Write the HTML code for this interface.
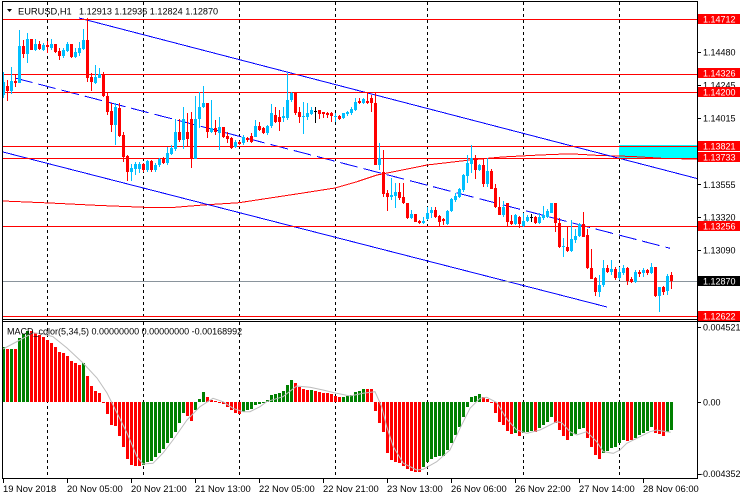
<!DOCTYPE html>
<html><head><meta charset="utf-8"><style>
html,body{margin:0;padding:0;background:#fff;width:740px;height:500px;overflow:hidden}
svg{display:block}
text{font-family:"Liberation Sans",Arial,sans-serif}
</style></head><body>
<svg width="740" height="500" viewBox="0 0 740 500" xmlns="http://www.w3.org/2000/svg" shape-rendering="crispEdges">
<rect width="740" height="500" fill="#fff"/>
<!-- grid -->
<path d="M47.5 2V319M143.5 2V319M239.5 2V319M335.5 2V319M427.5 2V319M523.5 2V319M619.5 2V319M47.5 322V478M143.5 322V478M239.5 322V478M335.5 322V478M427.5 322V478M523.5 322V478M619.5 322V478" stroke="#000" stroke-dasharray="3,3" fill="none"/>
<!-- cyan zone -->
<rect x="619" y="145" width="78" height="14" fill="#00FFFF"/>
<!-- MA -->
<polyline points="3,201 50,203 100,205.5 150,207.5 170,207.7 203,205 239,202.7 270,198 303,193 335,188 357,181.7 377,175 400,170.5 427,165 470,160 502,157 540,155 570,153.8 600,155.5 633,156.5 665,158.5 697,159" fill="none" stroke="#FF0000" stroke-width="1"/>
<!-- trend lines -->
<path d="M79 18L697 178.5M3 152L607 307" stroke="#0000FF" stroke-width="1" fill="none"/>
<path d="M15 78L670 248.3" stroke="#0000FF" stroke-width="1" fill="none" stroke-dasharray="18,6"/>
<!-- horizontal lines -->
<path d="M2 19h695v1h-695zM2 74h695v1h-695zM2 92h695v1h-695zM2 146h695v1h-695zM2 158h695v1h-695zM2 226h695v1h-695zM2 316h695v1h-695z" fill="#FF0000"/>
<path d="M2 281h695v1h-695z" fill="#8A949C"/>
<!-- candles -->
<path fill="#00BFFF" d="M2 82h3v13h-3zM3 72h1v26h-1zM10 81h3v10h-3zM11 67h1v27h-1zM18 46h3v37h-3zM19 30h1v53h-1zM26 39h3v15h-3zM27 33h1v30h-1zM34 44h3v6h-3zM35 39h1v12h-1zM42 45h3v5h-3zM43 43h1v8h-1zM50 44h3v4h-3zM51 39h1v11h-1zM62 50h3v6h-3zM63 48h1v10h-1zM66 44h3v7h-3zM67 42h1v10h-1zM74 52h3v5h-3zM75 48h1v10h-1zM78 48h3v5h-3zM79 42h1v14h-1zM82 40h3v9h-3zM83 29h1v21h-1zM94 77h3v6h-3zM95 65h1v19h-1zM98 74h3v4h-3zM99 68h1v10h-1zM114 107h3v18h-3zM115 103h1v42h-1zM130 168h3v4h-3zM131 164h1v17h-1zM134 164h3v5h-3zM135 162h1v13h-1zM138 164h3v5h-3zM139 162h1v11h-1zM146 161h3v9h-3zM147 160h1v12h-1zM154 165h3v5h-3zM155 163h1v9h-1zM158 159h3v6h-3zM159 158h1v9h-1zM166 153h3v10h-3zM167 147h1v18h-1zM170 148h3v6h-3zM171 145h1v10h-1zM174 132h3v17h-3zM175 119h1v32h-1zM182 119h3v21h-3zM183 107h1v42h-1zM194 119h3v40h-3zM195 96h1v63h-1zM198 107h3v12h-3zM199 92h1v36h-1zM202 103h3v4h-3zM203 86h1v22h-1zM210 128h3v4h-3zM211 100h1v33h-1zM218 127h3v6h-3zM219 117h1v33h-1zM234 142h3v5h-3zM235 140h1v8h-1zM242 137h3v6h-3zM243 135h1v10h-1zM254 126h3v11h-3zM255 120h1v17h-1zM266 126h3v7h-3zM267 125h1v10h-1zM270 113h3v13h-3zM271 104h1v24h-1zM282 116h3v2h-3zM283 107h1v15h-1zM286 100h3v18h-3zM287 73h1v47h-1zM290 93h3v7h-3zM291 92h1v10h-1zM302 116h3v1h-3zM303 102h1v32h-1zM306 113h3v4h-3zM307 103h1v17h-1zM310 110h3v4h-3zM311 107h1v8h-1zM334 116h3v1h-3zM335 113h1v9h-1zM342 113h3v5h-3zM343 113h1v6h-1zM346 112h3v2h-3zM347 111h1v5h-1zM350 109h3v4h-3zM351 107h1v8h-1zM354 102h3v8h-3zM355 98h1v13h-1zM362 99h3v4h-3zM363 98h1v6h-1zM378 158h3v7h-3zM379 143h1v27h-1zM390 195h3v2h-3zM391 178h1v22h-1zM394 192h3v4h-3zM395 183h1v25h-1zM410 214h3v4h-3zM411 210h1v9h-1zM422 221h3v2h-3zM423 217h1v7h-1zM426 213h3v6h-3zM427 207h1v13h-1zM430 210h3v3h-3zM431 207h1v11h-1zM446 211h3v13h-3zM447 210h1v15h-1zM450 199h3v12h-3zM451 198h1v14h-1zM454 196h3v4h-3zM455 193h1v9h-1zM458 189h3v8h-3zM459 188h1v10h-1zM462 175h3v15h-3zM463 174h1v18h-1zM466 163h3v13h-3zM467 155h1v28h-1zM470 158h3v6h-3zM471 145h1v28h-1zM478 165h3v5h-3zM479 164h1v7h-1zM486 171h3v13h-3zM487 158h1v29h-1zM502 207h3v8h-3zM503 201h1v16h-1zM514 215h3v9h-3zM515 214h1v11h-1zM522 221h3v5h-3zM523 213h1v14h-1zM526 217h3v4h-3zM527 215h1v7h-1zM538 217h3v6h-3zM539 213h1v11h-1zM542 215h3v3h-3zM543 206h1v14h-1zM546 211h3v6h-3zM547 209h1v9h-1zM550 203h3v10h-3zM562 246h3v1h-3zM563 238h1v19h-1zM570 239h3v12h-3zM571 220h1v32h-1zM574 236h3v4h-3zM575 229h1v14h-1zM578 224h3v12h-3zM579 223h1v14h-1zM598 285h3v7h-3zM599 275h1v22h-1zM602 268h3v17h-3zM603 260h1v27h-1zM610 269h3v3h-3zM611 260h1v15h-1zM618 272h3v6h-3zM619 267h1v13h-1zM622 268h3v5h-3zM623 265h1v10h-1zM634 272h3v10h-3zM635 270h1v13h-1zM642 270h3v3h-3zM643 268h1v9h-1zM650 267h3v6h-3zM651 263h1v11h-1zM658 287h3v9h-3zM659 287h1v25h-1zM666 276h3v15h-3zM667 274h1v21h-1z"/>
<path fill="#FF0000" d="M6 86h3v5h-3zM7 80h1v21h-1zM14 81h3v2h-3zM15 75h1v12h-1zM22 46h3v8h-3zM23 40h1v18h-1zM30 39h3v11h-3zM38 44h3v5h-3zM39 41h1v9h-1zM46 45h3v2h-3zM47 41h1v12h-1zM54 44h3v8h-3zM55 44h1v9h-1zM58 51h3v5h-3zM59 48h1v12h-1zM70 44h3v13h-3zM71 44h1v14h-1zM86 40h3v38h-3zM87 18h1v64h-1zM90 77h3v5h-3zM91 73h1v18h-1zM102 74h3v22h-3zM103 72h1v25h-1zM106 96h3v16h-3zM107 92h1v23h-1zM110 111h3v14h-3zM111 103h1v29h-1zM118 108h3v28h-3zM119 103h1v34h-1zM122 135h3v22h-3zM123 132h1v30h-1zM126 156h3v16h-3zM127 155h1v26h-1zM142 164h3v6h-3zM143 163h1v9h-1zM150 161h3v9h-3zM151 160h1v12h-1zM162 158h3v5h-3zM163 157h1v7h-1zM178 132h3v8h-3zM179 119h1v23h-1zM186 132h3v7h-3zM187 113h1v34h-1zM190 119h3v40h-3zM191 112h1v56h-1zM206 103h3v29h-3zM207 103h1v35h-1zM214 128h3v4h-3zM215 120h1v15h-1zM222 127h3v10h-3zM223 127h1v11h-1zM226 136h3v3h-3zM227 132h1v11h-1zM230 138h3v10h-3zM231 137h1v12h-1zM238 142h3v2h-3zM239 141h1v4h-1zM246 138h3v2h-3zM247 137h1v5h-1zM250 136h3v6h-3zM251 133h1v10h-1zM258 126h3v4h-3zM259 122h1v9h-1zM262 128h3v5h-3zM263 127h1v7h-1zM274 115h3v7h-3zM275 107h1v16h-1zM278 117h3v5h-3zM279 110h1v21h-1zM294 93h3v20h-3zM295 93h1v22h-1zM298 112h3v5h-3zM299 107h1v16h-1zM318 110h3v4h-3zM319 110h1v9h-1zM322 112h3v2h-3zM323 112h1v6h-1zM326 113h3v2h-3zM327 112h1v6h-1zM330 113h3v3h-3zM331 112h1v10h-1zM338 116h3v3h-3zM339 115h1v5h-1zM358 101h3v2h-3zM359 98h1v6h-1zM366 101h3v2h-3zM367 92h1v12h-1zM370 98h3v5h-3zM371 95h1v17h-1zM374 103h3v62h-3zM375 93h1v72h-1zM382 172h3v22h-3zM383 150h1v47h-1zM386 193h3v4h-3zM387 190h1v21h-1zM398 192h3v6h-3zM399 183h1v17h-1zM402 197h3v6h-3zM403 183h1v21h-1zM406 203h3v15h-3zM407 203h1v16h-1zM414 214h3v8h-3zM418 221h3v2h-3zM419 220h1v4h-1zM434 210h3v7h-3zM435 207h1v11h-1zM438 216h3v6h-3zM439 215h1v11h-1zM442 219h3v2h-3zM443 218h1v7h-1zM474 158h3v12h-3zM475 155h1v24h-1zM482 165h3v19h-3zM483 158h1v29h-1zM490 171h3v18h-3zM491 169h1v20h-1zM494 188h3v19h-3zM495 184h1v24h-1zM498 207h3v8h-3zM499 197h1v18h-1zM506 203h3v19h-3zM507 203h1v23h-1zM510 221h3v3h-3zM511 215h1v10h-1zM518 217h3v7h-3zM519 216h1v12h-1zM534 217h3v6h-3zM535 216h1v8h-1zM554 203h3v20h-3zM555 203h1v29h-1zM558 223h3v24h-3zM559 218h1v30h-1zM566 247h3v4h-3zM567 227h1v25h-1zM582 224h3v13h-3zM583 212h1v25h-1zM586 235h3v33h-3zM587 229h1v40h-1zM590 268h3v11h-3zM591 249h1v30h-1zM594 278h3v14h-3zM595 277h1v19h-1zM606 268h3v4h-3zM607 265h1v8h-1zM614 269h3v9h-3zM615 267h1v13h-1zM626 268h3v13h-3zM627 267h1v18h-1zM630 279h3v3h-3zM631 277h1v6h-1zM638 272h3v2h-3zM639 270h1v7h-1zM646 270h3v3h-3zM647 269h1v6h-1zM654 267h3v29h-3zM655 267h1v30h-1zM662 287h3v5h-3zM663 286h1v9h-1zM670 275h3v6h-3zM671 272h1v17h-1z"/>
<path fill="#000" d="M314 111h3v1h-3zM315 107h1v16h-1zM530 217h3v1h-3zM531 214h1v8h-1z"/>
<!-- MACD histogram -->
<path fill="#008000" d="M2 347h3v55h-3zM10 349h3v53h-3zM18 338h3v64h-3zM22 334h3v68h-3zM26 331h3v71h-3zM82 363h3v39h-3zM142 402h3v63h-3zM146 402h3v60h-3zM150 402h3v59h-3zM154 402h3v55h-3zM158 402h3v51h-3zM162 402h3v47h-3zM166 402h3v41h-3zM170 402h3v36h-3zM174 402h3v30h-3zM178 402h3v21h-3zM182 402h3v11h-3zM194 402h3v8h-3zM198 399h3v3h-3zM202 392h3v10h-3zM242 402h3v10h-3zM246 402h3v8h-3zM250 402h3v7h-3zM254 402h3v3h-3zM258 402h3v2h-3zM262 402h3v1h-3zM266 400h3v2h-3zM270 395h3v7h-3zM274 394h3v8h-3zM278 393h3v9h-3zM282 391h3v11h-3zM286 385h3v17h-3zM290 380h3v22h-3zM310 390h3v12h-3zM342 397h3v5h-3zM346 396h3v6h-3zM350 395h3v7h-3zM354 392h3v10h-3zM358 391h3v11h-3zM362 389h3v13h-3zM422 402h3v65h-3zM426 402h3v60h-3zM430 402h3v57h-3zM434 402h3v55h-3zM438 402h3v54h-3zM442 402h3v54h-3zM446 402h3v48h-3zM450 402h3v41h-3zM454 402h3v33h-3zM458 402h3v25h-3zM462 402h3v15h-3zM466 402h3v5h-3zM470 397h3v5h-3zM474 396h3v6h-3zM478 394h3v8h-3zM514 402h3v31h-3zM522 402h3v31h-3zM526 402h3v30h-3zM530 402h3v29h-3zM538 402h3v26h-3zM542 402h3v23h-3zM546 402h3v20h-3zM550 402h3v15h-3zM570 402h3v34h-3zM574 402h3v32h-3zM578 402h3v27h-3zM582 402h3v26h-3zM602 402h3v51h-3zM606 402h3v49h-3zM610 402h3v46h-3zM614 402h3v45h-3zM618 402h3v41h-3zM622 402h3v38h-3zM634 402h3v36h-3zM638 402h3v33h-3zM642 402h3v31h-3zM646 402h3v29h-3zM650 402h3v25h-3zM666 402h3v30h-3zM670 402h3v28h-3z"/>
<path fill="#FF0000" d="M6 349h3v53h-3zM14 349h3v53h-3zM30 331h3v71h-3zM34 333h3v69h-3zM38 335h3v67h-3zM42 337h3v65h-3zM46 340h3v62h-3zM50 343h3v59h-3zM54 347h3v55h-3zM58 352h3v50h-3zM62 353h3v49h-3zM66 356h3v46h-3zM70 361h3v41h-3zM74 363h3v39h-3zM78 365h3v37h-3zM86 376h3v26h-3zM90 386h3v16h-3zM94 391h3v11h-3zM98 393h3v9h-3zM102 402h3v1h-3zM106 402h3v12h-3zM110 402h3v23h-3zM114 402h3v24h-3zM118 402h3v34h-3zM122 402h3v45h-3zM126 402h3v57h-3zM130 402h3v63h-3zM134 402h3v64h-3zM138 402h3v64h-3zM186 402h3v14h-3zM190 402h3v19h-3zM206 397h3v5h-3zM210 400h3v2h-3zM214 401h3v1h-3zM218 402h3v1h-3zM222 402h3v2h-3zM226 402h3v5h-3zM230 402h3v8h-3zM234 402h3v11h-3zM238 402h3v12h-3zM294 383h3v19h-3zM298 387h3v15h-3zM302 389h3v13h-3zM306 390h3v12h-3zM314 391h3v11h-3zM318 392h3v10h-3zM322 393h3v9h-3zM326 393h3v9h-3zM330 394h3v8h-3zM334 396h3v6h-3zM338 397h3v5h-3zM366 389h3v13h-3zM370 389h3v13h-3zM374 402h3v9h-3zM378 402h3v21h-3zM382 402h3v30h-3zM386 402h3v51h-3zM390 402h3v58h-3zM394 402h3v60h-3zM398 402h3v61h-3zM402 402h3v64h-3zM406 402h3v67h-3zM410 402h3v69h-3zM414 402h3v70h-3zM418 402h3v70h-3zM482 397h3v5h-3zM486 399h3v3h-3zM490 402h3v1h-3zM494 402h3v11h-3zM498 402h3v20h-3zM502 402h3v23h-3zM506 402h3v29h-3zM510 402h3v32h-3zM518 402h3v34h-3zM534 402h3v30h-3zM554 402h3v21h-3zM558 402h3v28h-3zM562 402h3v34h-3zM566 402h3v38h-3zM586 402h3v36h-3zM590 402h3v45h-3zM594 402h3v53h-3zM598 402h3v57h-3zM626 402h3v39h-3zM630 402h3v38h-3zM654 402h3v31h-3zM658 402h3v32h-3zM662 402h3v34h-3z"/>
<!-- signal line -->
<polyline shape-rendering="auto" points="3,349 20,340 33,332.7 43,334 53,336.7 67,348 83,363 97,378 107,393 117,413 127,433 137,456.7 143,464 153,463.3 163,453 173,440 187,420 200,406.7 213,398.3 223,401.7 233,408.3 243,411.7 250,411.7 260,406.7 266.7,401.7 283,396.7 296.7,386 310,387.3 323,390 336.7,393.3 350,396 363,393.3 375,391.7 381.7,406.7 386.7,426.7 393.3,446.7 403.3,463.3 416.7,470 423.3,469.3 436.7,461.7 450,450 460,428.3 470,408.3 480,398.3 486.7,397.3 496.7,402.5 506.7,419 516.7,430 526.7,433.3 540,430 550,425 556.7,421.7 561.7,422.7 570,431.7 576.7,435 586.7,431.7 596.7,441.7 603.3,451.7 613.3,453.3 620,450 626.7,443.3 640,436.7 650,431.7 656.7,430 666.7,431.7 670.7,432.3" fill="none" stroke="#BDBDBD" stroke-width="1"/>
<!-- frame -->
<path d="M2 1.5H697.5M2.5 1V479M697.5 1V479M2 319.5H740M2 321.5H740M2 478.5H698" stroke="#000" fill="none"/>
<!-- ticks -->
<path d="M697 52.5h4M697 85.5h4M697 118.5h4M697 184.5h4M697 217.5h4M697 250.5h4M697 327.5h4M697 402.5h4M697 474.5h4M3.5 479v4M67.5 479v4M131.5 479v4M195.5 479v4M259.5 479v4M323.5 479v4M387.5 479v4M451.5 479v4M515.5 479v4M579.5 479v4M643.5 479v4" stroke="#000" fill="none"/>
<!-- title -->
<polygon points="7,9 12,9 9.5,12" fill="#000" shape-rendering="auto"/>
<text x="18" y="14.5" font-size="9.3" fill="#000">EURUSD,H1</text>
<text x="79" y="14.5" font-size="9.1" fill="#000">1.12913 1.12936 1.12824 1.12870</text>
<text x="7" y="334.5" font-size="9" fill="#000">MACD_color(5,34,5) 0.00000000 0.00000000 -0.00168992</text>
<!-- price axis labels -->
<g font-size="9" fill="#000">
<text x="703" y="55.3">1.14480</text>
<text x="703" y="88.5">1.14245</text>
<text x="703" y="121.3">1.14015</text>
<text x="703" y="187.8">1.13555</text>
<text x="703" y="220.5">1.13320</text>
<text x="703" y="253.3">1.13090</text>
<text x="703" y="330.5">0.004521</text>
<text x="703" y="405.5">0.00</text>
<text x="700" y="476.8">-0.004352</text>
</g>
<g fill="#FF0000">
<rect x="698" y="14" width="42" height="10"/>
<rect x="698" y="68" width="42" height="10"/>
<rect x="698" y="87" width="42" height="10"/>
<rect x="698" y="141" width="42" height="10"/>
<rect x="698" y="152" width="42" height="10"/>
<rect x="698" y="221" width="42" height="10"/>
<rect x="698" y="311" width="42" height="10"/>
</g>
<rect x="698" y="276" width="42" height="10" fill="#000"/>
<g font-size="9" fill="#fff">
<text x="703" y="22.3">1.14712</text>
<text x="703" y="76.3">1.14326</text>
<text x="703" y="95.3">1.14200</text>
<text x="703" y="149.3">1.13821</text>
<text x="703" y="160.3">1.13733</text>
<text x="703" y="229.3">1.13256</text>
<text x="703" y="284.3">1.12870</text>
<text x="703" y="319.3">1.12622</text>
</g>
<!-- time axis -->
<g font-size="9.4" fill="#000">
<text x="3" y="492">19 Nov 2018</text>
<text x="67" y="492">20 Nov 05:00</text>
<text x="131" y="492">20 Nov 21:00</text>
<text x="195" y="492">21 Nov 13:00</text>
<text x="259" y="492">22 Nov 05:00</text>
<text x="323" y="492">22 Nov 21:00</text>
<text x="387" y="492">23 Nov 13:00</text>
<text x="451" y="492">26 Nov 06:00</text>
<text x="515" y="492">26 Nov 22:00</text>
<text x="579" y="492">27 Nov 14:00</text>
<text x="643" y="492">28 Nov 06:00</text>
</g>
</svg>
</body></html>
